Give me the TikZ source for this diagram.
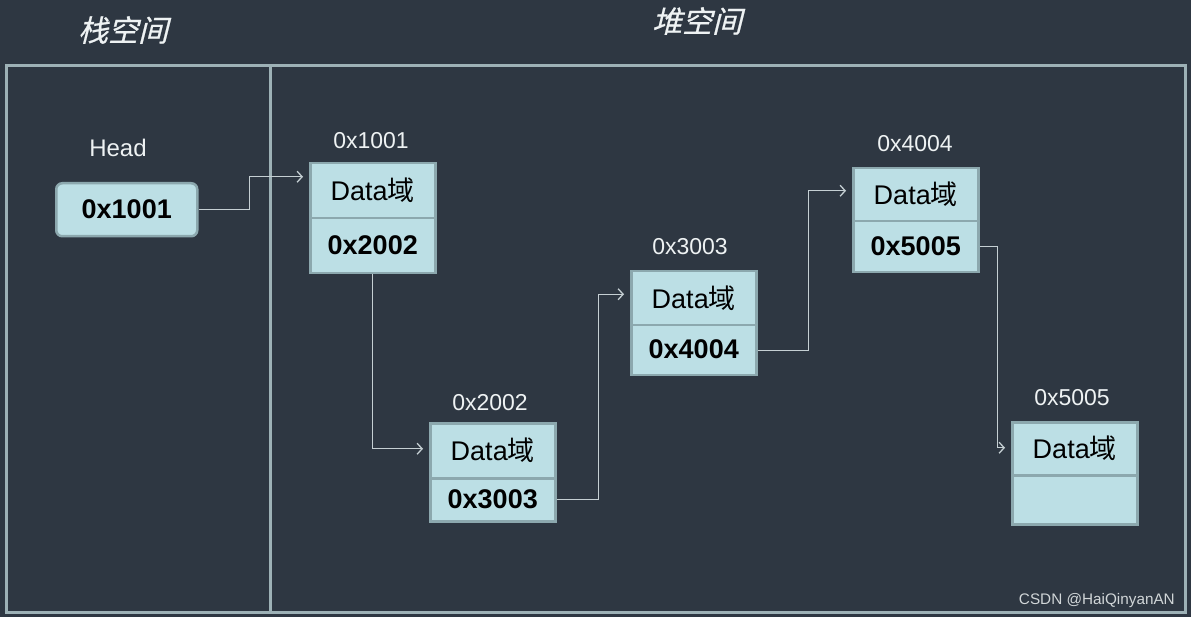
\documentclass[tikz,border=0pt]{standalone}
\usepackage{fontspec}
\setmainfont{Liberation Sans}
\newfontfamily\cjk{Noto Sans CJK SC}
\newfontfamily\cjkit[FakeSlant=0.25,FakeBold=0.6]{Noto Sans CJK SC}
\usetikzlibrary{arrows.meta}
\definecolor{bg}{HTML}{2E3742}
\definecolor{frame}{HTML}{9DB1B6}
\definecolor{boxfill}{HTML}{BCDFE5}
\definecolor{boxline}{HTML}{8CA8AE}
\definecolor{wire}{HTML}{C5CFD3}
\definecolor{lbl}{HTML}{EEF2F3}
\tikzset{
  cell/.style={draw=boxline, line width=2.5pt, fill=boxfill, minimum width=125pt, inner sep=0pt, anchor=north west, text=black},
  datacell/.style={cell, font=\fontsize{27}{27}\selectfont},
  ptrcell/.style={cell, font=\fontsize{27}{27}\selectfont\bfseries},
  addr/.style={text=lbl, font=\fontsize{23}{23}\selectfont, anchor=base, inner sep=0pt},
  title/.style={text=lbl, font=\fontsize{30}{30}\cjkit, anchor=center, inner sep=0pt},
  conn/.style={draw=wire, line width=1.3pt, -{Straight Barb[length=5pt,width=11pt]}, shorten >=6pt},
}
\newcommand{\dy}{\raisebox{3pt}{\fontsize{27}{27}\selectfont Data{\cjk 域}}}
\newcommand{\pv}[1]{\raisebox{2pt}{#1}}
\begin{document}
\begin{tikzpicture}[x=1pt,y=-1pt]
\fill[bg] (0,0) rectangle (1191,617);
\useasboundingbox (0,0) rectangle (1191,617);
% frame
\draw[frame, line width=3pt] (6,66) rectangle (1185,612);
\draw[frame, line width=3pt] (270,66) -- (270,612);
% titles
\node[title] (t1) at (123,30) {栈空间};
\node[title] (t2) at (697,21) {堆空间};
% head
\node[addr, font=\fontsize{24}{24}\selectfont] (hl) at (118,157) {Head};
\node[draw=boxline, line width=2.5pt, fill=boxfill, rounded corners=6pt, minimum width=141pt, minimum height=53pt, anchor=north west, inner sep=0pt, font=\fontsize{27}{27}\selectfont\bfseries] (h) at (55,182) {\pv{0x1001}};
% node 1
\node[addr] (l1) at (371,149) {0x1001};
\node[datacell, minimum height=55pt] (n1t) at (309,162) {\dy};
\node[ptrcell, minimum height=55pt] (n1b) at (309,217) {\pv{0x2002}};
% node 2
\node[addr] (l2) at (490,410) {0x2002};
\node[datacell, minimum height=55pt] (n2t) at (429,422) {\dy};
\node[ptrcell, minimum height=43pt] (n2b) at (429,477) {\pv{0x3003}};
% node 3
\node[addr] (l3) at (690,255) {0x3003};
\node[datacell, minimum height=54pt] (n3t) at (630,270) {\dy};
\node[ptrcell, minimum height=50pt] (n3b) at (630,324) {\pv{0x4004}};
% node 4
\node[addr] (l4) at (915,152) {0x4004};
\node[datacell, minimum height=53pt] (n4t) at (852,167) {\dy};
\node[ptrcell, minimum height=51pt] (n4b) at (852,220) {\pv{0x5005}};
% node 5
\node[addr] (l5) at (1072,406) {0x5005};
\node[datacell, minimum height=53pt] (n5t) at (1011,421) {\dy};
\node[ptrcell, minimum height=49pt] (n5b) at (1011,474) {};
% connectors
\draw[conn] (h.east) -- ++(51,0) |- ([yshift=14pt]n1t.west);
\draw[conn] (n1b.south) |- ([yshift=2pt]n2t.west);
\draw[conn] (n2b.east) -- ++(42,0) |- ([yshift=4pt]n3t.west);
\draw[conn] (n3b.east) -- ++(51,0) |- ([yshift=4pt]n4t.west);
\draw[conn] (n4b.east) -- ++(18,0) |- ([yshift=1pt]n5t.west);
% watermark
\node[text=lbl!85!bg, font=\fontsize{15.3}{15.3}\selectfont, anchor=base east, inner sep=0pt] (wm) at (1175,604) {CSDN @HaiQinyanAN};
\end{tikzpicture}
\end{document}
